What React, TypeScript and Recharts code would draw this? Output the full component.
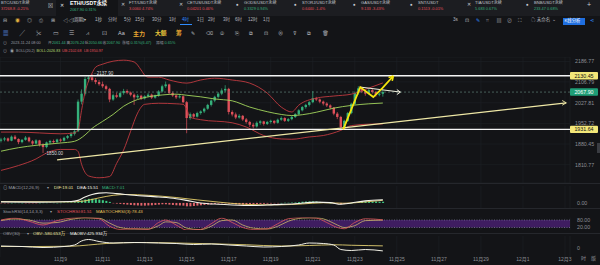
import React from "react";
import {
  ComposedChart,
  Bar,
  Line,
  XAxis,
  YAxis,
  ReferenceLine,
  ReferenceArea,
  ReferenceDot,
  CartesianGrid,
} from "recharts";

// ---------- time axis (day of November, 4h candles) ----------
const T0 = 6 + 4 / 24; // 11-06 04:00
const tAt = (i: number) => T0 + i / 6;
const X_DOMAIN: [number, number] = [6.119, 33.238];
const dateTicks = [9, 11, 13, 15, 17, 19, 21, 23, 25, 27, 29, 31, 33];
const dateLabel = (t: number) => (t <= 30 ? `11月${t}` : `12月${t - 30}`);

// ---------- price candles ----------
const opens = [
  1892, 1896, 1900, 1892, 1906, 1898, 1887, 1895, 1903, 1890,
  1882, 1893, 1878, 1870, 1886, 1891, 1887, 1896, 1892, 1902,
  1908, 1916, 1925, 2032, 2062, 2118, 2124, 2114, 2106, 2098,
  2090, 2080, 2040, 2056, 2050, 2064, 2072, 2066, 2058, 2048,
  2054, 2044, 2052, 2058, 2047, 2055, 2070, 2090, 2097, 2064,
  2055, 2048, 2052, 2030, 1972, 1986, 1977, 1990, 1996, 2006,
  2020, 2036, 2050, 2062, 2074, 2080, 1994, 1985, 1974, 1980,
  1967, 1958, 1948, 1942, 1955, 1960, 1951, 1958, 1962, 1955,
  1966, 1972, 1962, 1968, 1976, 1986, 2000, 2012, 2020, 2030,
  2045, 2040, 2032, 2025, 2018, 2010, 1988, 1976, 1940, 1962,
  1990, 2024, 2064, 2082, 2070, 2062, 2075, 2068, 2058, 2061.44,
];
const highs = [
  1902, 1905, 1903, 1910, 1912, 1900, 1898, 1908, 1906, 1894,
  1897, 1895, 1883, 1889, 1895, 1896, 1899, 1900, 1906, 1912,
  1922, 1930, 2040, 2078, 2126, 2130, 2137.9, 2122, 2114, 2108,
  2096, 2084, 2062, 2066, 2070, 2080, 2078, 2070, 2063, 2060,
  2058, 2056, 2064, 2062, 2058, 2075, 2096, 2108, 2100, 2070,
  2060, 2058, 2055, 2034, 1992, 1990, 1995, 2000, 2010, 2024,
  2040, 2054, 2068, 2082, 2094, 2084, 2000, 1992, 1986, 1983,
  1972, 1962, 1955, 1960, 1964, 1962, 1962, 1966, 1964, 1970,
  1978, 1975, 1972, 1980, 1990, 2004, 2016, 2024, 2034, 2072,
  2050, 2044, 2036, 2030, 2022, 2012, 1994, 1980, 1966, 1994,
  2028, 2070, 2090, 2088, 2076, 2082, 2080, 2072, 2066, 2076.24,
];
const lows = [
  1886, 1890, 1888, 1890, 1895, 1880, 1883, 1892, 1886, 1876,
  1879, 1872, 1850, 1866, 1880, 1882, 1884, 1886, 1889, 1897,
  1902, 1910, 1922, 2022, 2055, 2106, 2108, 2098, 2092, 2084,
  2074, 2030, 2035, 2045, 2046, 2058, 2060, 2052, 2020, 2042,
  2038, 2040, 2048, 2042, 2043, 2050, 2066, 2084, 2060, 2050,
  2042, 2044, 2026, 1918, 1966, 1972, 1974, 1984, 1990, 2002,
  2014, 2030, 2044, 2056, 2068, 1985, 1978, 1968, 1970, 1962,
  1952, 1940, 1935, 1938, 1948, 1945, 1947, 1952, 1950, 1952,
  1962, 1958, 1958, 1964, 1972, 1982, 1996, 2006, 2014, 2026,
  2034, 2026, 2018, 2012, 2004, 1982, 1968, 1931.64, 1936, 1958,
  1986, 2020, 2058, 2064, 2054, 2058, 2062, 2050, 2052, 2050.66,
];
const closes = [
  1896, 1900, 1892, 1906, 1898, 1887, 1895, 1903, 1890, 1882,
  1893, 1878, 1870, 1886, 1891, 1887, 1896, 1892, 1902, 1908,
  1916, 1925, 2032, 2062, 2118, 2124, 2114, 2106, 2098, 2090,
  2080, 2040, 2056, 2050, 2064, 2072, 2066, 2058, 2048, 2054,
  2044, 2052, 2058, 2047, 2055, 2070, 2090, 2097, 2064, 2055,
  2048, 2052, 2030, 1972, 1986, 1977, 1990, 1996, 2006, 2020,
  2036, 2050, 2062, 2074, 2080, 1994, 1985, 1974, 1980, 1967,
  1958, 1948, 1942, 1955, 1960, 1951, 1958, 1962, 1955, 1966,
  1972, 1962, 1968, 1976, 1986, 2000, 2012, 2020, 2030, 2045,
  2040, 2032, 2025, 2018, 2010, 1988, 1976, 1940, 1962, 1990,
  2024, 2064, 2082, 2070, 2062, 2075, 2068, 2058, 2061.44, 2067.9,
];

// ---------- Bollinger bands [candle index, price] ----------
const bollUpper: [number, number][] = [
  [0, 1922], [5, 1922], [11, 1919], [17, 1916], [21, 1919], [22, 1930], [23, 2000],
  [24, 2068], [25, 2110], [26, 2141], [27, 2164], [29, 2176], [32, 2188], [35, 2192],
  [38, 2185], [40, 2153], [41, 2133], [42, 2125], [45, 2125], [48, 2114], [53, 2102],
  [57, 2114], [61, 2121], [66, 2114], [71, 2102], [76, 2064], [80, 2012], [83, 1994],
  [85, 2019], [90, 2045], [95, 2053], [100, 2060], [105, 2083], [109, 2102.68],
];
const bollMid: [number, number][] = [
  [0, 1856], [5, 1868], [10, 1876], [17, 1884], [21, 1890], [24, 1912], [26, 1935],
  [29, 1960], [32, 1985], [35, 2015], [38, 2035], [42, 2050], [46, 2057], [50, 2060],
  [53, 2056], [57, 2050], [61, 2042], [66, 2035], [71, 2012], [76, 1995], [80, 1985],
  [83, 1981], [86, 1984], [90, 1993], [95, 2008], [100, 2018], [105, 2024], [109, 2026.83],
];
const bollLower: [number, number][] = [
  [0, 1792], [5, 1808], [10, 1830], [13, 1850], [17, 1862], [21, 1862], [22, 1855],
  [23, 1812], [25, 1774], [28, 1768], [31, 1772], [33, 1815], [35, 1860], [37, 1925],
  [39, 1990], [41, 2022], [45, 2026], [50, 2024], [52, 2022], [53, 2005], [54, 1975],
  [57, 1966], [66, 1955], [70, 1940], [75, 1910], [80, 1898], [83, 1897], [88, 1905],
  [92, 1910], [97, 1928], [100, 1945], [105, 1950], [109, 1950.97],
];
const priceTicks = [2186.77, 2106.79, 2027.81, 1952.72, 1880.45, 1810.77];
const PRICE_DOMAIN: [number, number] = [1751.2, 2204.8];
const levelHigh = 2130.45;
const levelLow = 1931.64;
const lastPrice = 2067.9;
const markHigh = { i: 26, p: 2137.9 };
const markLow = { i: 12, p: 1850.0 };

// hand-drawn annotations (time, price)
const trendLine = [
  { t: 8.833, p: 1826.9 },
  { t: 33.06, p: 2027.5 },
];
const trendArrow = [
  { t: 32.867, p: 2036.3 },
  { t: 32.867, p: 2018.9 },
];
const forecastPath = [
  { t: 22.45, p: 1931.64 },
  { t: 23.26, p: 2086.8 },
  { t: 23.88, p: 2049.2 },
  { t: 24.31, p: 2083.0 },
  { t: 24.833, p: 2129.5 },
];
const forecastArrow = [
  { t: 24.605, p: 2123.7 },
  { t: 24.781, p: 2110.6 },
];
const sidePath = [
  { t: 23.262, p: 2086.8 },
  { t: 25.167, p: 2067.9 },
];
const sideArrow = [
  { t: 25.0, p: 2077.3 },
  { t: 25.0, p: 2058.4 },
];

// ---------- MACD ----------
const macdHist = [
  -1, -2, -1, 0, 1, 1, 0, -1, -2, -2,
  -1, 0, 1, 1, 2, 1, 0, 1, 2, 2,
  3, 4, 8, 14, 20, 24, 25, 22, 20, 16,
  12, 6, -2, -4, -6, -8, -10, -12, -14, -15,
  -16, -16, -15, -14, -12, -10, -8, -8, -10, -12,
  -14, -15, -16, -20, -20, -18, -16, -14, -12, -10,
  -8, -6, -4, -2, -1, -4, -6, -8, -9, -10,
  -10, -9, -8, -7, -6, -5, -4, -3, -2, -1,
  0, 1, 1, 2, 3, 5, 7, 8, 9, 9,
  8, 6, 4, 2, 0, -2, -4, -8, -6, -3,
  0, 3, 6, 8, 9, 9, 8, 8, 7, 7.01,
];
const macdDif: [number, number][] = [
  [0, 6], [10, 5], [20, 8], [22, 15], [24, 35], [26, 50], [28, 58], [30, 60], [33, 55],
  [38, 45], [45, 35], [50, 25], [53, 15], [57, 0], [62, -8], [66, -12], [72, -15],
  [78, -10], [84, -5], [90, 5], [94, 2], [97, -8], [100, 0], [104, 12], [109, 19.01],
];
const macdDea: [number, number][] = [
  [0, 8], [20, 6], [24, 12], [28, 30], [32, 45], [36, 50], [42, 45], [50, 32], [56, 18],
  [62, 5], [68, -6], [74, -11], [80, -11], [86, -6], [92, 1], [98, -2], [104, 6], [109, 15.51],
];

// ---------- StochRSI ----------
const stochK: [number, number][] = [
  [0, 80], [4, 95], [8, 70], [12, 40], [16, 75], [20, 95], [24, 100], [28, 90], [31, 30],
  [34, 5], [38, 10], [42, 5], [45, 60], [47, 80], [50, 40], [53, 0], [57, 5], [60, 50],
  [63, 95], [66, 60], [69, 20], [72, 5], [76, 10], [79, 50], [82, 90], [86, 100], [90, 95],
  [93, 60], [96, 20], [98, 10], [101, 60], [104, 90], [109, 81.51],
];
const stochD: [number, number][] = [
  [0, 75], [4, 88], [8, 80], [12, 55], [16, 60], [20, 85], [24, 97], [28, 95], [31, 55],
  [34, 20], [38, 8], [42, 8], [45, 35], [47, 65], [50, 60], [53, 15], [57, 3], [60, 30],
  [63, 75], [66, 80], [69, 40], [72, 15], [76, 8], [79, 30], [82, 70], [86, 95], [90, 98],
  [93, 80], [96, 40], [98, 20], [101, 35], [104, 75], [109, 78.43],
];

// ---------- OBV (万) ----------
const obv: [number, number][] = [
  [0, 400], [6, 300], [12, 100], [18, 300], [21, 600], [23, 1400], [25, 1700], [28, 1300],
  [32, 1000], [38, 1100], [45, 1000], [50, 900], [55, 700], [60, 800], [65, 600], [70, 400],
  [75, 200], [80, 300], [85, 600], [88, 1000], [92, 900], [95, 600], [97, -300], [100, -500],
  [104, -300], [109, -580.653],
];
const maObv: [number, number][] = [
  [0, 300], [10, 300], [20, 350], [25, 600], [30, 900], [40, 1100], [50, 1000], [60, 850],
  [70, 650], [80, 400], [88, 500], [95, 650], [100, 550], [105, 480], [109, 425.934],
];

// ---------- header texts ----------
const tabs = [
  { x: 1, icon: "", name: "BTC/USDT永续", quote: "37268.8 -0.21%", up: false },
  { x: 121, icon: "✕", name: "FTT/USDT永续", quote: "3.0060 4.74%", up: false },
  { x: 179, icon: "✕", name: "CETUS/USDT永续", quote: "0.04201 0.46%", up: false },
  { x: 236, icon: "●", name: "GODS/USDT永续", quote: "0.3329 0.94%", up: true },
  { x: 294, icon: "●", name: "STORJ/USDT永续", quote: "0.6440 -1.4%", up: false },
  { x: 353, icon: "●", name: "GAS/USDT永续", quote: "9.133 -3.43%", up: false },
  { x: 410, icon: "●", name: "SNT/USDT", quote: "0.1513 -0.01%", up: false },
  { x: 467, icon: "✕", name: "TIA/USDT永续", quote: "5.683 0.67%", up: true },
  { x: 526, icon: "●", name: "BNB/USDT永续", quote: "233.47 0.68%", up: true },
];
const periods = [
  { x: 95, s: "1秒" }, { x: 108, s: "分时" }, { x: 124, s: "5分" }, { x: 135, s: "15分" },
  { x: 152, s: "30分" }, { x: 169, s: "1时" }, { x: 182, s: "4时" }, { x: 197, s: "1日" },
  { x: 208, s: "2时" }, { x: 223, s: "3时" }, { x: 235, s: "6时" }, { x: 248, s: "12时" },
  { x: 263, s: "1月" },
];
const ohlcInfo = [
  { x: 48, k: "开", v: "2061.44" }, { x: 66.5, k: "高", v: "2076.24" },
  { x: 84.5, k: "低", v: "2050.66" }, { x: 102.5, k: "收", v: "2067.90" },
];

// ---------- styling ----------
const BG = "#131417";
const TABBG = "#1c1d21";
const GRID = "#1f2126";
const GRAY = "#9a9da4";
const AXIS = "#8b8e95";
const UP = "#35b07b";
const DOWN = "#e0505a";
const BAND_RED = "#c03a40";
const BAND_MID = "#a3d65c";
const YELLOW = "#f4e40c";
const FONT = "'Liberation Sans','Noto Sans CJK SC',sans-serif";

const candleData = closes.map((c, i) => ({
  t: tAt(i),
  o: opens[i],
  h: highs[i],
  l: lows[i],
  c,
  hist: macdHist[i],
}));
const toSeries = (pts: [number, number][]) => pts.map(([i, v]) => ({ t: tAt(i), v }));
const ptsSeries = (pts: { t: number; p: number }[]) => pts.map((d) => ({ t: d.t, v: d.p }));

const Candle = (props: any) => {
  const { x, y, width, height, payload } = props;
  if (x == null || !payload) return null;
  const { o, h, l, c } = payload;
  const top = Math.min(y, y + height);
  const bot = Math.max(y, y + height);
  const k = h === l ? 0 : (bot - top) / (Math.log(h) - Math.log(l));
  const py = (v: number) => top + (Math.log(h) - Math.log(v)) * k;
  const color = c >= o ? UP : DOWN;
  const cx = x + width / 2;
  const b1 = py(Math.max(o, c));
  const b2 = py(Math.min(o, c));
  return (
    <g>
      <line x1={cx} x2={cx} y1={top} y2={bot} stroke={color} strokeWidth={0.7} />
      <rect x={cx - 1.2} y={b1} width={2.4} height={Math.max(0.6, b2 - b1)} fill={color} />
    </g>
  );
};

const HistBar = (props: any) => {
  const { x, y, width, height, payload } = props;
  if (x == null || !payload) return null;
  const top = Math.min(y, y + height);
  const hgt = Math.abs(height);
  return (
    <rect
      x={x + width / 2 - 1}
      y={top}
      width={2}
      height={Math.max(0.4, hgt)}
      fill={payload.hist >= 0 ? "#3fcf86" : "#e0646b"}
    />
  );
};

const PriceTick = (props: any) => {
  const { x, y, payload } = props;
  return (
    <text x={x + 5} y={y} dy={1.9} fontSize={5.3} fill={AXIS} fontFamily={FONT}>
      {Number(payload.value).toFixed(2)}
    </text>
  );
};

const makeTick = (fmt: (v: number) => string) => (props: any) => {
  const { x, y, payload } = props;
  return (
    <text x={x + 7} y={y} dy={1.9} fontSize={5.3} fill={AXIS} fontFamily={FONT}>
      {fmt(Number(payload.value))}
    </text>
  );
};

const DateTick = (props: any) => {
  const { x, y, payload } = props;
  return (
    <text x={x} y={y} dy={3.5} textAnchor="middle" fontSize={5} fill={AXIS} fontFamily={FONT}>
      {dateLabel(Number(payload.value))}
    </text>
  );
};

const tag = (fill: string, color: string, text: string) => (props: any) => {
  const vb = props.viewBox || {};
  const xr = (vb.x || 0) + (vb.width || 0);
  const yy = vb.y || 0;
  return (
    <g>
      <rect x={xr} y={yy - 3.7} width={28} height={7.4} fill={fill} rx={1} />
      <text
        x={xr + 14}
        y={yy}
        dy={1.9}
        textAnchor="middle"
        fontSize={5.3}
        fill={color}
        fontFamily={FONT}
      >
        {text}
      </text>
    </g>
  );
};

const markLabel = (text: string, dx: number, dy: number) => (props: any) => {
  const vb = props.viewBox || {};
  const cx = (vb.x || 0) + (vb.width || 0) / 2;
  const cy = (vb.y || 0) + (vb.height || 0) / 2;
  return (
    <text x={cx + dx} y={cy + dy} fontSize={4.6} fill="#d8d9dc" fontFamily={FONT}>
      {text}
    </text>
  );
};

const Txt = ({ x, y, s = 4.3, c = GRAY, w = 400, children }: any) => (
  <span
    style={{
      position: "absolute",
      left: x,
      top: y - s * 0.58,
      fontSize: s,
      color: c,
      fontWeight: w,
      lineHeight: 1,
      whiteSpace: "nowrap",
      fontFamily: FONT,
    }}
  >
    {children}
  </span>
);

const Box = ({ x, y, w, h, bg }: any) => (
  <div style={{ position: "absolute", left: x, top: y, width: w, height: h, background: bg }} />
);

const xAxisHidden = (
  <XAxis
    type="number"
    dataKey="t"
    domain={X_DOMAIN}
    allowDataOverflow
    ticks={dateTicks}
    hide
  />
);

export default function App() {
  const noAnim = { isAnimationActive: false };
  return (
    <div
      style={{
        position: "absolute",
        left: 0,
        top: 0,
        width: 600,
        height: 265,
        background: BG,
        overflow: "hidden",
        fontFamily: FONT,
      }}
    >
      {/* tab bar */}
      <Box x={0} y={0} w={600} h={16} bg={TABBG} />
      <Box x={56} y={0} w={62} h={16} bg={BG} />
      {tabs.map((t) => (
        <React.Fragment key={t.name}>
          {t.icon ? <Txt x={t.x} y={5.5} s={4.6} c="#c9ccd2">{t.icon}</Txt> : null}
          <Txt x={t.icon ? t.x + 8 : t.x} y={3.2} s={4.1} c="#c3c6cc">{t.name}</Txt>
          <Txt x={t.icon ? t.x + 8 : t.x} y={9.6} s={3.9} c={t.up ? UP : DOWN}>{t.quote}</Txt>
        </React.Fragment>
      ))}
      <Txt x={48} y={5.5} s={5} c="#c9ccd2">⊠</Txt>
      <Txt x={60} y={5.8} s={5} c="#e9eaec">✕</Txt>
      <Txt x={70} y={3.6} s={5.3} c="#ffffff" w={700}>ETH/USDT永续</Txt>
      <Txt x={70} y={10} s={3.9} c={UP}>2067.90 0.31%</Txt>
      <Txt x={587} y={5.5} s={7} c="#c9ccd2">+</Txt>

      {/* toolbar row 2 */}
      {["⊟", "◉", "◎", "⎙", "⊞", "◁◁"].map((s, i) => (
        <Txt key={s} x={3 + i * 12} y={21} s={5} c={i === 1 ? "#e0b040" : "#b5b8be"}>{s}</Txt>
      ))}
      <Txt x={73} y={21} s={4.4} c="#c3c6cc">[周期]▾</Txt>
      {periods.map((p) => (
        <Txt key={p.s} x={p.x} y={21} s={4.5} c={p.s === "4时" ? "#2f8cff" : "#b5b8be"}>
          {p.s}
        </Txt>
      ))}
      <Box x={180} y={24} w={12} h={0.8} bg="#2f8cff" />
      <Txt x={453} y={21} s={4.6} c="#b5b8be">3s</Txt>
      {["⊡", "✎", "⌗", "▤", "⊘", "⛶"].map((s, i) => (
        <Txt key={s} x={465 + i * 10.5} y={21} s={5} c={i === 1 ? "#2f8cff" : "#b5b8be"}>{s}</Txt>
      ))}
      <Txt x={531} y={21} s={4.5} c="#b5b8be">☁ 未命名 ⌄</Txt>
      <Box x={563} y={17.5} w={22} h={7} bg="#1f6fe0" />
      <Txt x={564.5} y={21} s={4.3} c="#ffffff">K线分析</Txt>
      <Txt x={590} y={21} s={5} c="#2f8cff">⋖</Txt>

      {/* toolbar row 3 */}
      {["▦", "╱", "✂", "▭", "☰", "⩘", "⊡"].map((s, i) => (
        <Txt key={s} x={3 + i * 16.5} y={34} s={5.5} c={i === 0 ? "#5b8ce0" : "#b5b8be"}>{s}</Txt>
      ))}
      <Txt x={118} y={34} s={5.5} c="#c3c6cc">Aa</Txt>
      <Txt x={133} y={34} s={6} c="#e7a531" w={700}>主力</Txt>
      <Txt x={155} y={34} s={5.8} c="#e8c43a" w={700}>大额</Txt>
      <Txt x={176} y={34} s={5.8} c="#e7a531" w={700}>筹</Txt>
      {["✎", "⌫", "⦷", "⎘", "⧉", "⊡", "⊗", "⊽", "⧉", "🗑"].map((s, i) => (
        <Txt key={i} x={191 + i * 14.5} y={34} s={5.2} c="#b5b8be">{s}</Txt>
      ))}

      {/* info lines */}
      <Txt x={3} y={44.5} s={4} c={GRAY}>⊙</Txt>
      <Txt x={11} y={44.5} s={3.8} c={GRAY}>2023-11-24 08:00</Txt>
      {ohlcInfo.map((d) => (
        <React.Fragment key={d.k}>
          <Txt x={d.x} y={44.5} s={3.8} c={GRAY}>{d.k}</Txt>
          <Txt x={d.x + 4} y={44.5} s={3.8} c={UP}>{d.v}</Txt>
        </React.Fragment>
      ))}
      <Txt x={122} y={44.5} s={3.8} c={GRAY}>涨幅</Txt>
      <Txt x={130.5} y={44.5} s={3.8} c={UP}>0.31%(6.47)</Txt>
      <Txt x={156} y={44.5} s={3.8} c={GRAY}>振幅</Txt>
      <Txt x={164.5} y={44.5} s={3.8} c={UP}>0.65%</Txt>
      <Txt x={3} y={52.5} s={4} c={GRAY}>⊙</Txt>
      <Txt x={10} y={52.5} s={4} c={GRAY}>◉</Txt>
      <Txt x={16} y={52.5} s={3.6} c={GRAY}>BOLL(20,2)</Txt>
      <Txt x={36.5} y={52.5} s={3.7} c="#b9d870">BOLL:2026.83</Txt>
      <Txt x={62} y={52.5} s={3.7} c={DOWN}>UB:2102.68</Txt>
      <Txt x={84} y={52.5} s={3.7} c={DOWN}>LB:1950.97</Txt>

      {/* main price chart */}
      <div style={{ position: "absolute", left: 0, top: 57 }}>
        <ComposedChart
          width={600}
          height={126}
          data={candleData}
          margin={{ top: 0, right: 0, bottom: 0, left: 0 }}
        >
          <CartesianGrid stroke={GRID} strokeWidth={0.6} />
          {xAxisHidden}
          <YAxis
            orientation="right"
            width={30}
            scale="log"
            domain={PRICE_DOMAIN}
            allowDataOverflow
            ticks={priceTicks}
            interval={0}
            tick={<PriceTick />}
            tickSize={0}
            tickMargin={0}
            axisLine={false}
            tickLine={false}
          />
          <Line data={toSeries(bollUpper)} dataKey="v" type="monotone" stroke={BAND_RED} strokeWidth={0.9} dot={false} {...noAnim} />
          <Line data={toSeries(bollLower)} dataKey="v" type="monotone" stroke={BAND_RED} strokeWidth={0.9} dot={false} {...noAnim} />
          <Line data={toSeries(bollMid)} dataKey="v" type="monotone" stroke={BAND_MID} strokeWidth={0.9} dot={false} {...noAnim} />
          <Bar dataKey={(d: any) => [d.l, d.h]} barSize={3} shape={<Candle />} {...noAnim} />
          <ReferenceLine y={lastPrice} stroke="#5f7f76" strokeDasharray="2 2" strokeWidth={0.7} label={tag("#1f9e77", "#ffffff", "2067.90")} />
          <ReferenceLine y={levelHigh} stroke="#f4f4f4" strokeWidth={1.4} label={tag("#f3e779", "#111111", "2130.45")} />
          <ReferenceLine y={levelLow} stroke="#f4f4f4" strokeWidth={1.4} label={tag("#f3e779", "#111111", "1931.64")} />
          <Line data={ptsSeries(trendLine)} dataKey="v" type="linear" stroke="#efe8a6" strokeWidth={1.3} dot={false} {...noAnim} />
          <ReferenceLine segment={[{ x: trendArrow[0].t, y: trendArrow[0].p }, { x: trendLine[1].t, y: trendLine[1].p }]} stroke="#efe8a6" strokeWidth={0.9} />
          <ReferenceLine segment={[{ x: trendArrow[1].t, y: trendArrow[1].p }, { x: trendLine[1].t, y: trendLine[1].p }]} stroke="#efe8a6" strokeWidth={0.9} />
          <Line data={ptsSeries(sidePath)} dataKey="v" type="linear" stroke="#f2f2e0" strokeWidth={1} dot={false} {...noAnim} />
          <ReferenceLine segment={[{ x: sideArrow[0].t, y: sideArrow[0].p }, { x: sidePath[1].t, y: sidePath[1].p }]} stroke="#f2f2e0" strokeWidth={1} />
          <ReferenceLine segment={[{ x: sideArrow[1].t, y: sideArrow[1].p }, { x: sidePath[1].t, y: sidePath[1].p }]} stroke="#f2f2e0" strokeWidth={1} />
          <Line data={ptsSeries(forecastPath)} dataKey="v" type="linear" stroke={YELLOW} strokeWidth={1.8} dot={false} {...noAnim} />
          <ReferenceLine segment={[{ x: forecastArrow[0].t, y: forecastArrow[0].p }, { x: forecastPath[4].t, y: forecastPath[4].p }]} stroke={YELLOW} strokeWidth={1.6} />
          <ReferenceLine segment={[{ x: forecastArrow[1].t, y: forecastArrow[1].p }, { x: forecastPath[4].t, y: forecastPath[4].p }]} stroke={YELLOW} strokeWidth={1.6} />
          <ReferenceDot x={tAt(markHigh.i)} y={markHigh.p} r={0} label={markLabel("··2137.90", 1.5, 1.5)} />
          <ReferenceDot x={tAt(markLow.i)} y={markLow.p} r={0} label={markLabel("·1850.00", 2, 2)} />
        </ComposedChart>
      </div>

      {/* separators */}
      <Box x={0} y={183} w={600} h={0.7} bg="#25272c" />
      <Box x={0} y={208} w={600} h={0.7} bg="#25272c" />
      <Box x={0} y={233} w={600} h={0.7} bg="#25272c" />

      {/* MACD */}
      <div style={{ position: "absolute", left: 0, top: 183 }}>
        <ComposedChart width={600} height={25} data={candleData} margin={{ top: 3, right: 0, bottom: 0, left: 0 }}>
          <CartesianGrid stroke={GRID} strokeWidth={0.6} horizontal={false} />
          {xAxisHidden}
          <YAxis orientation="right" width={30} domain={[-30, 100]} allowDataOverflow ticks={[0]} interval={0} tick={makeTick((v) => v.toFixed(2))} tickSize={0} tickMargin={0} axisLine={false} tickLine={false} />
          <Bar dataKey="hist" barSize={2} shape={<HistBar />} {...noAnim} />
          <Line data={toSeries(macdDea)} dataKey="v" type="monotone" stroke="#e6cf6a" strokeWidth={0.9} dot={false} {...noAnim} />
          <Line data={toSeries(macdDif)} dataKey="v" type="monotone" stroke="#f4f3ea" strokeWidth={1.1} dot={false} {...noAnim} />
        </ComposedChart>
      </div>
      <Txt x={3} y={189} s={4.4} c={GRAY}>⊙ MACD(12,26,9)</Txt>
      <Txt x={47} y={189} s={4.4} c={GRAY}>▾</Txt>
      <Txt x={54} y={189} s={4.4} c="#f1e9a4">DIF:19.01</Txt>
      <Txt x={77} y={189} s={4.4} c="#f4f3ea">DEA:15.51</Txt>
      <Txt x={102} y={189} s={4.4} c={UP}>MACD:7.01</Txt>

      {/* StochRSI */}
      <div style={{ position: "absolute", left: 0, top: 208 }}>
        <ComposedChart width={600} height={25} data={candleData} margin={{ top: 9.5, right: 0, bottom: 3, left: 0 }}>
          <CartesianGrid stroke={GRID} strokeWidth={0.6} horizontal={false} />
          {xAxisHidden}
          <YAxis orientation="right" width={30} domain={[0, 100]} allowDataOverflow ticks={[80, 20]} interval={0} tick={makeTick((v) => v.toFixed(2))} tickSize={0} tickMargin={0} axisLine={false} tickLine={false} />
          <ReferenceArea y1={20} y2={80} fill="#3f1d61" fillOpacity={1} stroke="none" x1={X_DOMAIN[0]} x2={X_DOMAIN[1]} />
          <ReferenceLine y={80} stroke="#8e8fb0" strokeDasharray="1 1.5" strokeWidth={0.6} />
          <ReferenceLine y={20} stroke="#8e8fb0" strokeDasharray="1 1.5" strokeWidth={0.6} />
          <Line data={toSeries(stochD)} dataKey="v" type="monotone" stroke="#cdb66c" strokeWidth={0.8} dot={false} {...noAnim} />
          <Line data={toSeries(stochK)} dataKey="v" type="monotone" stroke="#e25a60" strokeWidth={0.8} dot={false} {...noAnim} />
        </ComposedChart>
      </div>
      <Txt x={3} y={212.3} s={4.4} c={GRAY}>StochRSI(14,14,3,3)</Txt>
      <Txt x={50} y={212.3} s={4.4} c={GRAY}>▾</Txt>
      <Txt x={57} y={212.3} s={4.4} c={DOWN}>STOCHRSI:81.51</Txt>
      <Txt x={96} y={212.3} s={4.4} c="#e4c15c">MASTOCHRSI(3):78.43</Txt>

      {/* OBV + date axis */}
      <div style={{ position: "absolute", left: 0, top: 233 }}>
        <ComposedChart width={600} height={33} data={candleData} margin={{ top: 3, right: 0, bottom: 0, left: 0 }}>
          <CartesianGrid stroke={GRID} strokeWidth={0.6} horizontal={false} />
          <XAxis
            type="number"
            dataKey="t"
            domain={X_DOMAIN}
            allowDataOverflow
            ticks={dateTicks}
            tick={<DateTick />}
            height={9}
            tickSize={0}
            tickMargin={0}
            axisLine={false}
            tickLine={false}
            interval={0}
          />
          <YAxis orientation="right" width={30} domain={[-1800, 2400]} allowDataOverflow ticks={[0]} interval={0} tick={makeTick((v) => v.toFixed(0))} tickSize={0} tickMargin={0} axisLine={false} tickLine={false} />
          <Line data={toSeries(maObv)} dataKey="v" type="monotone" stroke="#e2cf72" strokeWidth={0.9} dot={false} {...noAnim} />
          <Line data={toSeries(obv)} dataKey="v" type="monotone" stroke="#f2f1e6" strokeWidth={1} dot={false} {...noAnim} />
        </ComposedChart>
      </div>
      <Txt x={3} y={234.3} s={4.4} c={GRAY}>OBV(30)</Txt>
      <Txt x={27} y={234.3} s={4.4} c={GRAY}>▾</Txt>
      <Txt x={33} y={234.3} s={4.4} c="#f1e9a4">OBV:-580.653万</Txt>
      <Txt x={70} y={234.3} s={4.4} c="#f4f3ea">MAOBV:425.934万</Txt>
      <Txt x={581} y={258.5} s={5} c={AXIS}>时</Txt>
      <Txt x={591} y={258.5} s={5} c={AXIS}>版</Txt>
      <Box x={597} y={143} w={3} h={10} bg="#3a3c42" />
    </div>
  );
}
